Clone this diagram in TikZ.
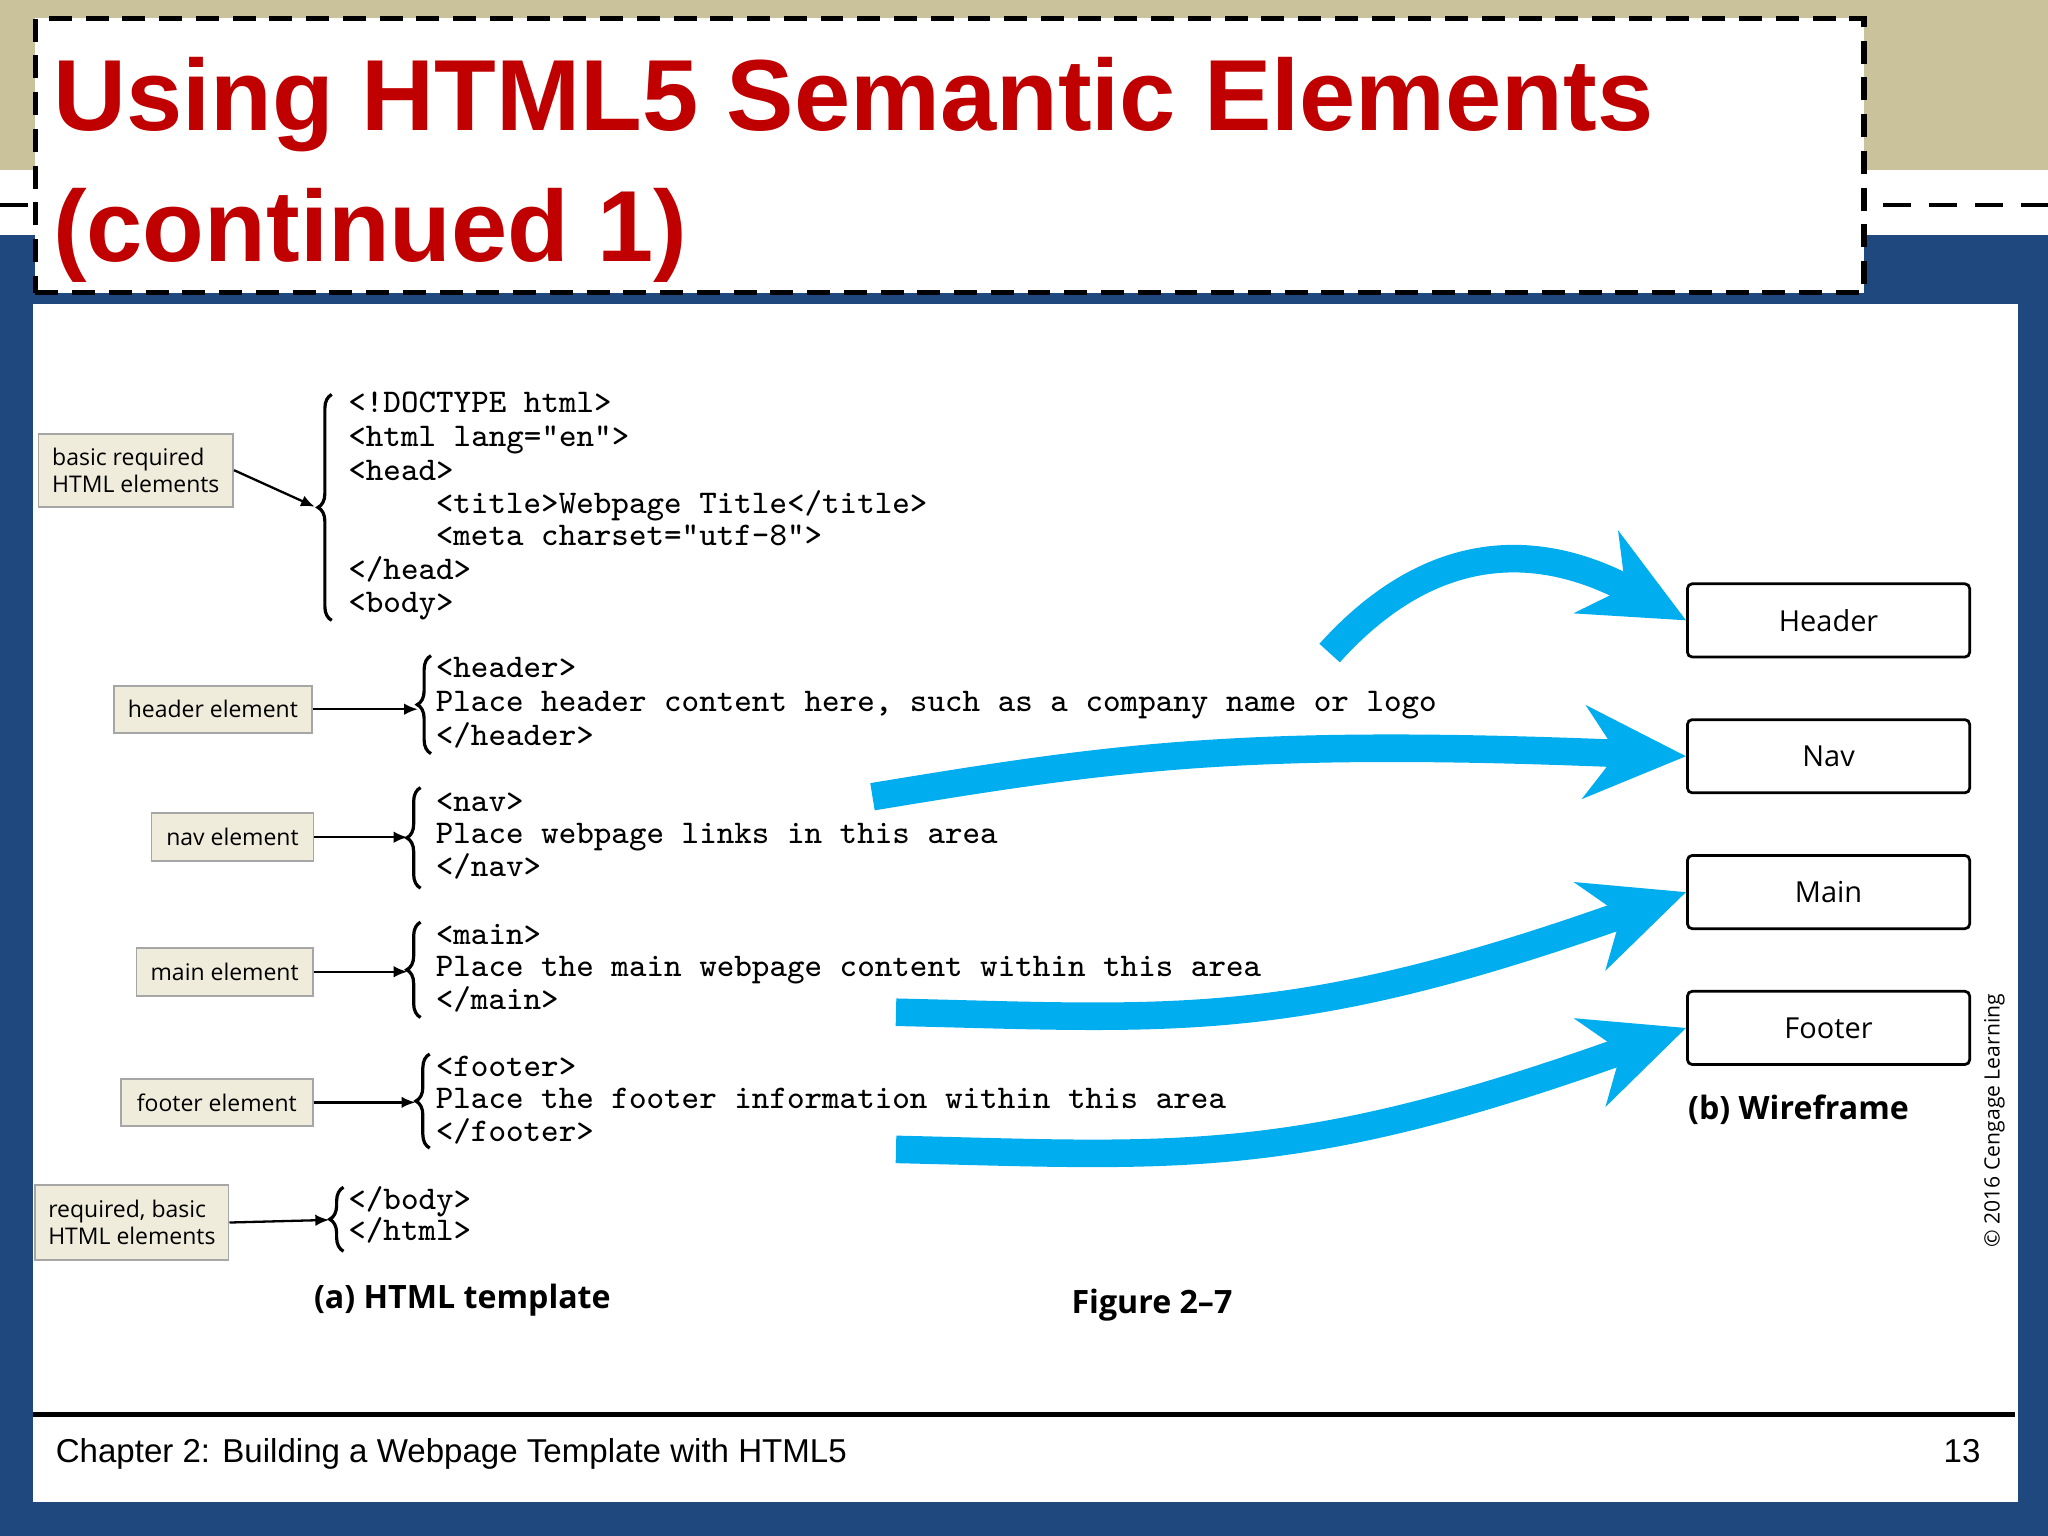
\documentclass[tikz,border=0pt]{standalone}
\usepackage{fontspec}
\setmainfont{Open Sans}
\newfontfamily\titlef{Liberation Sans}
\newfontfamily\footf{Liberation Sans}
\usetikzlibrary{decorations.pathreplacing,arrows.meta}
\definecolor{bgblue}{HTML}{1F487F}
\definecolor{tan}{HTML}{C9C29A}
\definecolor{titred}{HTML}{C00000}
\definecolor{labbg}{HTML}{EFECDB}
\definecolor{cyanA}{HTML}{00AEEF}
\tikzset{
 code/.style={anchor=base west,inner sep=0pt,font=\ttfamily\fontsize{7.2}{8}\selectfont},
 lab/.style={draw=gray!70,fill=labbg,inner sep=0pt,align=left,font=\fontsize{5}{6}\selectfont},
 labarrow/.style={-{Latex[length=3pt,width=2.5pt]},line width=0.5pt},
 brc/.style={decorate,decoration={brace,amplitude=3pt},line width=0.7pt},
 wire/.style={draw,line width=0.6pt,rounded corners=1pt,minimum width=216*0.01cm,minimum height=56*0.01cm,font=\fontsize{6.3}{7}\selectfont},
 bigarrow/.style={cyanA,line width=6pt,-{Stealth[length=22pt,width=20pt,inset=7pt]}},
}
\begin{document}
\begin{tikzpicture}[x=0.01cm,y=-0.01cm]
\useasboundingbox (0,0) rectangle (1568,1176);
\fill[bgblue] (0,0) rectangle (1568,1176);
\fill[tan] (0,0) rectangle (1568,130);
\fill[white] (0,130) rectangle (1568,180);
\draw[dashed,line width=1pt,dash pattern=on 6pt off 4pt] (0,157) -- (1568,157);
\fill[white] (25,233) rectangle (1545,1150);
\draw[line width=1.2pt] (25,1083) -- (1543,1083);
\node[draw,dashed,dash pattern=on 5pt off 3pt,line width=1.2pt,fill=white,minimum width=1400*0.01cm,minimum height=210*0.01cm,anchor=north west] (titlebox) at (25,12) {};
\node[anchor=base west,inner sep=0pt,text=titred,font=\titlef\bfseries\fontsize{22}{26}\selectfont] (t1) at (40,100) {Using HTML5 Semantic Elements};
\node[anchor=base west,inner sep=0pt,text=titred,font=\titlef\bfseries\fontsize{22}{26}\selectfont] (t2) at (40,200) {(continued 1)};
% code block 1
\node[code] (c1) at (266,316) {<!DOCTYPE html>};
\node[code] (c2) at (266,342) {<html lang="en">};
\node[code] (c3) at (266,368) {<head>};
\node[code] (c4) at (333,393) {<title>Webpage Title</title>};
\node[code] (c5) at (333,418) {<meta charset="utf-8">};
\node[code] (c6) at (266,444) {</head>};
\node[code] (c7) at (266,469) {<body>};
\draw[brc] (254,475) -- (254,302);
\node[lab,minimum width=149*0.01cm,minimum height=56*0.01cm] (l1) at (104,360) {basic required\\HTML elements};
\coordinate (b1) at (241,388);
\draw[labarrow] (l1.east) -- (b1);
% header
\node[code] (h1) at (333,519) {<header>};
\node[code] (h2) at (333,545) {Place header content here, such as a company name or logo};
\node[code] (h3) at (333,571) {</header>};
\draw[brc] (330,577) -- (330,502);
\node[lab,minimum width=152*0.01cm,minimum height=36*0.01cm] (l2) at (163,543) {header element};
\coordinate (b2) at (320,543);
\draw[labarrow] (l2.east) -- (b2);
% nav
\node[code] (n1) at (333,621) {<nav>};
\node[code] (n2) at (333,646) {Place webpage links in this area};
\node[code] (n3) at (333,671) {</nav>};
\draw[brc] (322,680) -- (322,603);
\node[lab,minimum width=124*0.01cm,minimum height=37*0.01cm] (l3) at (178,641) {nav element};
\coordinate (b3) at (312,641);
\draw[labarrow] (l3.east) -- (b3);
% main
\node[code] (m1) at (333,723) {<main>};
\node[code] (m2) at (333,748) {Place the main webpage content within this area};
\node[code] (m3) at (333,773) {</main>};
\draw[brc] (322,779) -- (322,706);
\node[lab,minimum width=135*0.01cm,minimum height=37*0.01cm] (l4) at (172,744) {main element};
\coordinate (b4) at (312,744);
\draw[labarrow] (l4.east) -- (b4);
% footer
\node[code] (f1) at (333,824) {<footer>};
\node[code] (f2) at (333,849) {Place the footer information within this area};
\node[code] (f3) at (333,874) {</footer>};
\draw[brc] (329,879) -- (329,807);
\node[lab,minimum width=147*0.01cm,minimum height=36*0.01cm] (l5) at (166,844) {footer element};
\coordinate (b5) at (318,844);
\draw[labarrow] (l5.east) -- (b5);
% end
\node[code] (e1) at (266,926) {</body>};
\node[code] (e2) at (266,950) {</html>};
\draw[brc] (263,958) -- (263,909);
\node[lab,minimum width=148*0.01cm,minimum height=57*0.01cm] (l6) at (101,936) {required, basic\\HTML elements};
\coordinate (b6) at (252,934);
\draw[labarrow] (l6.east) -- (b6);
% wireframe
\node[wire] (wh) at (1400,475) {Header};
\node[wire] (wn) at (1400,579) {Nav};
\node[wire] (wm) at (1400,683) {Main};
\node[wire] (wf) at (1400,787) {Footer};
\node[anchor=base,font=\bfseries\fontsize{7}{8}\selectfont] (cap2) at (1377,857) {(b) Wireframe};
\node[anchor=base,font=\bfseries\fontsize{7}{8}\selectfont] (cap1) at (354,1002) {(a) HTML template};
\node[anchor=base,font=\bfseries\fontsize{7}{8}\selectfont] (fig) at (882,1006) {Figure 2–7};
\node[rotate=90,font=\fontsize{4.6}{5}\selectfont] (copy) at (1527,858) {© 2016 Cengage Learning};
% big arrows
\coordinate (a1s) at (1018,500);
\coordinate (a2s) at (668,610);
\coordinate (a3s) at (686,775);
\coordinate (a4s) at (686,880);
\draw[bigarrow] (a1s) .. controls (1090,420) and (1170,410) .. (wh.west);
\draw[bigarrow] (a2s) .. controls (850,580) and (950,565) .. (wn.west);
\draw[bigarrow] (a3s) .. controls (900,780) and (990,790) .. (wm.west);
\draw[bigarrow] (a4s) .. controls (900,885) and (990,895) .. (wf.west);
% footer
\node[anchor=base west,inner sep=0pt,font=\footf\fontsize{7.2}{8}\selectfont] (ft) at (42,1120) {Chapter 2: Building a Webpage Template with HTML5};
\node[anchor=base east,inner sep=0pt,font=\footf\fontsize{7.2}{8}\selectfont] (pg) at (1517,1120) {13};
\end{tikzpicture}
\end{document}
